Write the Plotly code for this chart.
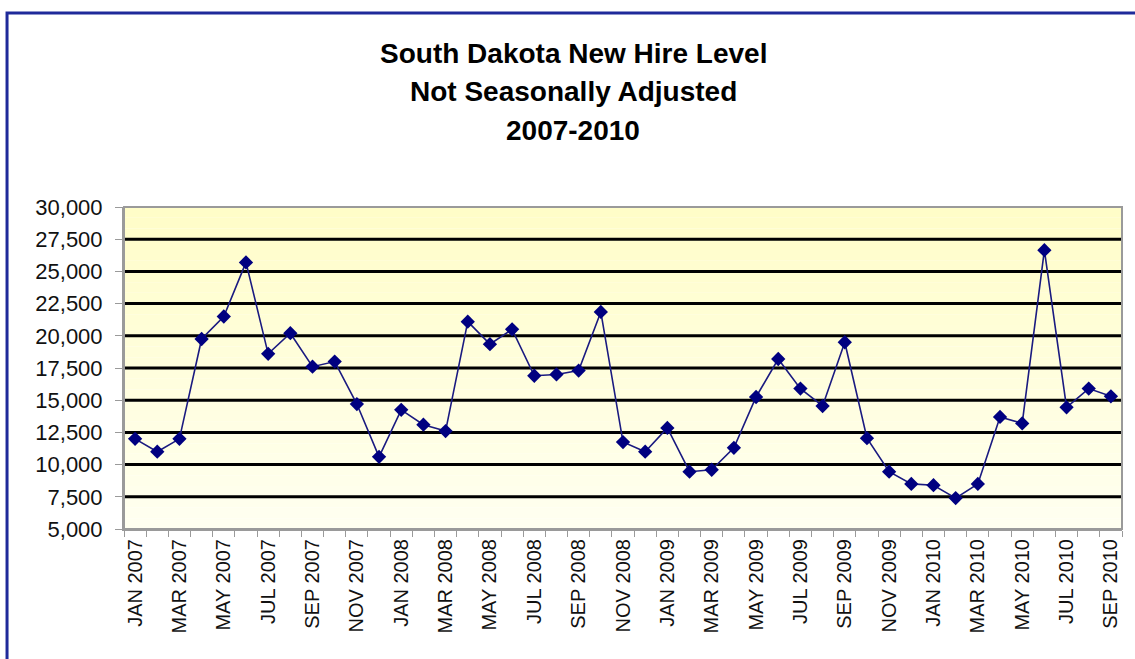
import plotly.graph_objects as go

months = ["JAN", "FEB", "MAR", "APR", "MAY", "JUN", "JUL", "AUG", "SEP", "OCT", "NOV", "DEC"]
years = [2007, 2008, 2009, 2010]
categories = [f"{m} {y}" for y in years for m in months][:45]  # Jan 2007 - Sep 2010

new_hires = [
    12000, 11000, 12000, 19750, 21500, 25700, 18600, 20200, 17600, 18000, 14700, 10600,
    14250, 13100, 12600, 21100, 19350, 20500, 16900, 17000, 17300, 21850, 11750, 11000,
    12850, 9450, 9600, 11300, 15250, 18200, 15900, 14550, 19500, 12050, 9450, 8500,
    8400, 7400, 8500, 13700, 13200, 26650, 14450, 15900, 15300,
]

tick_text = [c if i % 2 == 0 else "" for i, c in enumerate(categories)]
y_ticks = list(range(5000, 30001, 2500))
title_lines = ["South Dakota New Hire Level", "Not Seasonally Adjusted", "2007-2010"]

fig = go.Figure()
fig.add_trace(go.Scatter(
    x=categories, y=new_hires, mode="lines+markers",
    line=dict(color="#1a1a80", width=1.6),
    marker=dict(symbol="diamond", size=11, color="#000080"),
    showlegend=False, cliponaxis=False,
))

shapes = []
# pale yellow gradient background
n = 30
top = (255, 253, 200)
bot = (255, 255, 240)
for i in range(n):
    t = i / (n - 1)
    c = tuple(round(bot[k] + (top[k] - bot[k]) * t) for k in range(3))
    shapes.append(dict(type="rect", xref="paper", yref="paper", x0=0, x1=1,
                       y0=i / n, y1=(i + 1) / n, line=dict(width=0),
                       fillcolor=f"rgb{c}", layer="below"))
# black grid lines
for v in y_ticks[1:-1]:
    shapes.append(dict(type="line", xref="paper", yref="y", x0=0, x1=1, y0=v, y1=v,
                       line=dict(color="black", width=3), layer="below"))
# plot border
shapes.append(dict(type="rect", xref="paper", yref="paper", x0=0, x1=1, y0=0, y1=1,
                   line=dict(color="#9a9a9a", width=2), layer="above"))
# outer blue frame (partly cropped)
shapes.append(dict(type="rect", xref="paper", yref="paper", x0=-0.1172, x1=1.2,
                   y0=-1.0, y1=1.6025, line=dict(color="#1f2a9a", width=3), layer="above"))

title_y = [53, 92, 130]
annotations = []
for txt, yp in zip(title_lines, title_y):
    annotations.append(dict(text=f"<b>{txt}</b>", xref="paper", yref="paper",
                            x=(573 - 124) / 998, y=(529 - yp) / 322,
                            xanchor="center", yanchor="middle", showarrow=False,
                            font=dict(family="Liberation Sans, Arial", size=28, color="black")))

fig.update_layout(
    width=1135, height=659,
    margin=dict(l=124, r=13, t=207, b=130),
    paper_bgcolor="white", plot_bgcolor="rgba(0,0,0,0)",
    shapes=shapes, annotations=annotations,
    font=dict(family="Liberation Sans, Arial", color="black"),
)
fig.update_xaxes(
    type="category", categoryorder="array", categoryarray=categories,
    range=[-0.5, len(categories) - 0.5], autorange=False,
    tickmode="array", tickvals=categories, ticktext=tick_text,
    tickangle=-90, tickson="boundaries", ticks="outside", ticklen=6,
    tickcolor="#9a9a9a", tickfont=dict(size=20, color="#111111"), showgrid=False,
    showline=True, linecolor="#9a9a9a", linewidth=2,
)
fig.update_yaxes(
    range=[5000, 30000], autorange=False, tickmode="array", tickvals=y_ticks,
    tickformat=",d", ticks="outside", ticklen=7, tickcolor="#9a9a9a",
    tickfont=dict(size=22, color="#111111"), ticklabelstandoff=8, showgrid=False,
    showline=True, linecolor="#9a9a9a", linewidth=2, zeroline=False,
)

fig.write_html("out.html", config={"displayModeBar": False},
               post_script="document.body.style.margin='0';")
